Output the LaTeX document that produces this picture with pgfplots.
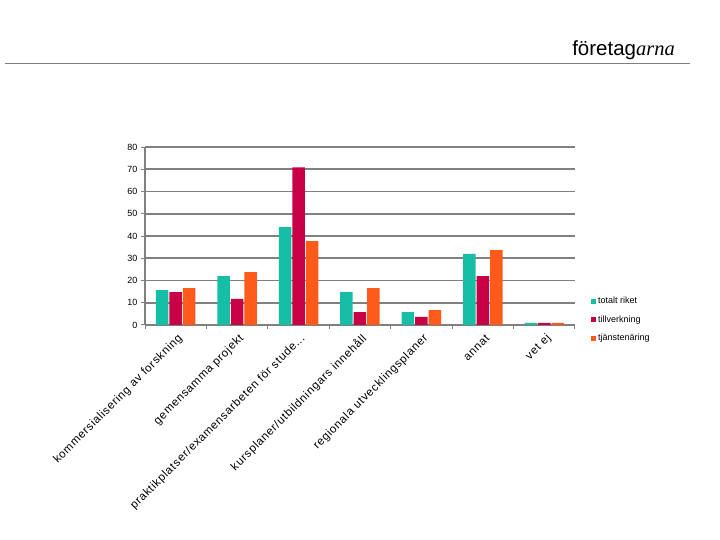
\documentclass[border=0pt]{standalone}
\usepackage{pgfplots}
\pgfplotsset{compat=1.18}
\usepackage{fontspec}
\setmainfont{Liberation Sans}
\newfontfamily\seriffont{Liberation Serif}
\newfontfamily\labfont[LetterSpace=6]{Liberation Sans}
\definecolor{cteal}{RGB}{22,190,165}
\definecolor{ccrim}{RGB}{200,0,70}
\definecolor{corng}{RGB}{255,90,25}
\definecolor{cgrid}{RGB}{128,128,128}
\begin{document}
\begin{tikzpicture}
\path[use as bounding box, fill=white] (0,0) rectangle (720pt,540pt);
\draw[cgrid, line width=1pt] (5pt,476pt) -- (690pt,476pt);
\node[anchor=base east, inner sep=0] at (675pt,484pt) {\fontsize{20.5}{22}\selectfont företag{\seriffont\itshape arna}};
\begin{axis}[
  at={(145pt,215pt)}, anchor=south west, scale only axis,
  width=430pt, height=178pt,
  ybar=1pt, bar width=12.5pt,
  xmin=-0.5, xmax=6.5, ymin=0, ymax=80,
  ytick={0,10,...,80},
  xtick={0,...,6},
  xticklabels={{kommersialisering av forskning}, {gemensamma projekt}, {praktikplatser/examensarbeten för  stude{.}{.}{.}}, {kursplaner/utbildningars innehåll}, {regionala utvecklingsplaner}, {annat}, {vet ej}},
  major x tick style={draw=none},
  minor xtick={-0.5,0.5,1.5,2.5,3.5,4.5,5.5,6.5},
  minor x tick style={cgrid, line width=1pt},
  minor tick length=4pt,
  major tick length=4pt,
  tick align=outside,
  axis x line*=bottom, axis y line*=left,
  axis line style={cgrid, line width=1.2pt, -},
  y tick style={cgrid, line width=1pt},
  ymajorgrids, grid style={cgrid, line width=1.6pt},
  /pgf/number format/assume math mode=true,
  yticklabel style={font=\fontsize{9}{10}\selectfont},
  xticklabel style={font=\labfont\fontsize{11.5}{13}\selectfont, rotate=45, anchor=east, inner sep=1pt, yshift=-9pt, xshift=-1pt},
  legend style={draw=none, fill=none, font=\fontsize{9}{10}\selectfont, at={(1.03,0.18)}, anchor=north west, row sep=6.5pt},
  legend cell align=left,
  legend image code/.code={\path[#1] (0pt,-2.5pt) rectangle (5pt,2.5pt);},
]
\addplot[fill=cteal, draw=none] coordinates {(0,15.7) (1,22) (2,44) (3,14.8) (4,5.8) (5,32) (6,0.9)};
\addplot[fill=ccrim, draw=none] coordinates {(0,14.8) (1,11.7) (2,70.8) (3,5.8) (4,3.6) (5,22) (6,0.9)};
\addplot[fill=corng, draw=none] coordinates {(0,16.6) (1,23.8) (2,37.7) (3,16.6) (4,6.7) (5,33.7) (6,0.9)};
\legend{totalt riket, tillverkning, tjänstenäring}
\end{axis}
\end{tikzpicture}
\end{document}
